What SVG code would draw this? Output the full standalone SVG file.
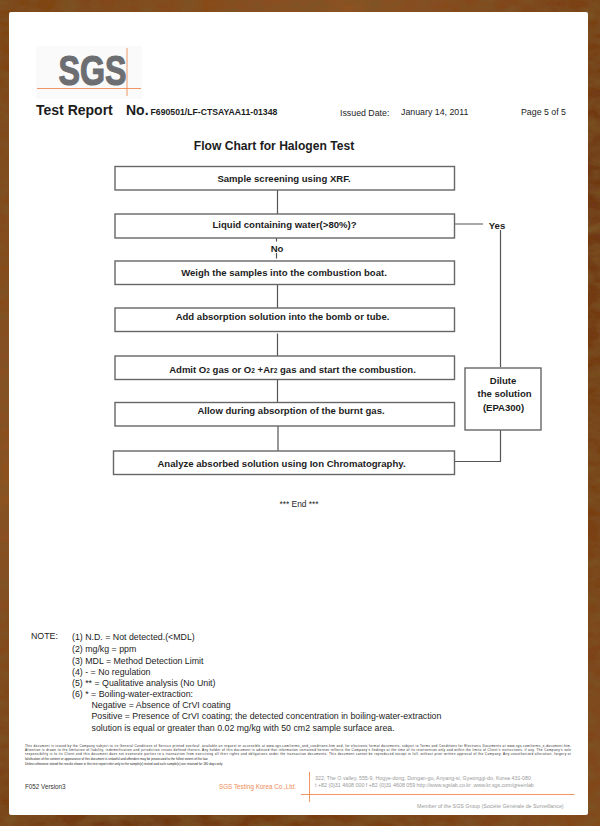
<svg xmlns="http://www.w3.org/2000/svg" width="600" height="826" viewBox="0 0 600 826">
<style>
text{font-family:"Liberation Sans",Arial,sans-serif;fill:#1c1c1c}
.b{fill:#fff;stroke:#666;stroke-width:1.4}
.l{fill:none;stroke:#555;stroke-width:1.2}
.t{font-size:9.55px;font-weight:bold;text-anchor:middle}
.n{font-size:8.8px}
.f{font-size:3.1px;fill:#222}
.o{stroke:#ee8a55;stroke-width:.9;fill:none}
.g{font-size:5.3px;fill:#999}
</style>
<defs>
<linearGradient id="w" x1="0" y1="0" x2="1" y2="1">
<stop offset="0" stop-color="#7d4317"/><stop offset=".3" stop-color="#8f5224"/><stop offset=".6" stop-color="#6e3712"/><stop offset="1" stop-color="#84481d"/>
</linearGradient>
<filter id="grain" x="0" y="0" width="100%" height="100%">
<feTurbulence type="fractalNoise" baseFrequency="0.05 0.09" numOctaves="3" seed="4"/>
<feColorMatrix values="0 0 0 0 0.2  0 0 0 0 0.09  0 0 0 0 0.02  1.6 0 0 0 -0.45"/>
<feComposite in2="SourceGraphic" operator="in"/>
<feMerge><feMergeNode in="SourceGraphic"/><feMergeNode/></feMerge>
</filter>
</defs>
<rect width="600" height="826" fill="url(#w)" filter="url(#grain)"/>
<rect x="9" y="12" width="579" height="803" rx="2" fill="#fff"/>
<g id="logo">
<rect x="36" y="46" width="106" height="53" fill="#fafafa"/>
<text x="92.500" y="85" font-size="42" font-weight="bold" text-anchor="middle" textLength="68" lengthAdjust="spacingAndGlyphs" stroke="#6c6e72" stroke-width="1.200" style="fill:#6c6e72">SGS</text>
<path class="o" d="M37 88.500H141M127 48V96"/>
</g>
<g id="header">
<text x="36" y="115" font-size="14" font-weight="bold">Test Report</text>
<text x="126" y="115" font-size="14" font-weight="bold">No.</text>
<text x="150.500" y="115" font-size="8.700" font-weight="bold">F690501/LF-CTSAYAA11-01348</text>
<text x="340" y="115.500" font-size="8.800">Issued Date:</text>
<text x="401" y="114.500" font-size="8.800">January 14, 2011</text>
<text x="521" y="115" font-size="8.800">Page 5 of 5</text>
<text x="274" y="150" font-size="12.100" font-weight="bold" text-anchor="middle">Flow Chart for Halogen Test</text>
</g>
<g id="connectors">
<path class="l" d="M277.500 190V214M276.500 238V241.500M276.500 253V258.500M277.500 284V308M277.500 333.500V356M277.500 379V403M278 426V451M453 224H483M500.500 230V367M500.500 430V461.500H454"/>
</g>
<g id="n1"><rect class="b" x="115" y="166.500" width="339.500" height="23.500"/><text class="t" x="284" y="181.500">Sample screening using XRF.</text></g>
<g id="n2"><rect class="b" x="115" y="214" width="339.500" height="24"/><text class="t" x="284.500" y="228">Liquid containing water(&gt;80%)?</text></g>
<g id="no"><text class="t" x="277" y="251.500">No</text></g>
<g id="yes"><text class="t" x="497" y="228.500">Yes</text></g>
<g id="n3"><rect class="b" x="115" y="261" width="339.500" height="23.500"/><text class="t" x="284" y="275.500">Weigh the samples into the combustion boat.</text></g>
<g id="n4"><rect class="b" x="115" y="308" width="339.500" height="23.500"/><text class="t" x="282.500" y="319.500">Add absorption solution into the bomb or tube.</text></g>
<g id="n5"><rect class="b" x="115" y="356" width="339.500" height="23.500"/><text class="t" x="292.500" y="372.500">Admit O<tspan font-size="6.500">2</tspan> gas or O<tspan font-size="6.500">2</tspan> +Ar<tspan font-size="6.500">2</tspan> gas and start the combustion.</text></g>
<g id="n6"><rect class="b" x="115" y="402.500" width="339.500" height="23.500"/><text class="t" x="291" y="414">Allow during absorption of the burnt gas.</text></g>
<g id="n7"><rect class="b" x="113.500" y="451" width="341" height="23.500"/><text class="t" x="281.500" y="466.500">Analyze absorbed solution using Ion Chromatography.</text></g>
<g id="n8"><rect class="b" x="465" y="368" width="76" height="62"/><text class="t" x="503" y="384">Dilute</text><text class="t" x="504.500" y="397">the solution</text><text class="t" x="503.500" y="411">(EPA300)</text></g>
<text x="299" y="507" font-size="8.400" text-anchor="middle">*** End ***</text>
<g id="notes">
<text class="n" x="31" y="639">NOTE:</text>
<text class="n" x="72" y="640">(1) N.D. = Not detected.(&lt;MDL)</text>
<text class="n" x="72" y="652">(2) mg/kg = ppm</text>
<text class="n" x="72" y="663.500">(3) MDL = Method Detection Limit</text>
<text class="n" x="72" y="674.500">(4) - = No regulation</text>
<text class="n" x="72" y="686">(5) ** = Qualitative analysis (No Unit)</text>
<text class="n" x="72" y="697">(6) * = Boiling-water-extraction:</text>
<text class="n" x="91.500" y="708">Negative = Absence of CrVI coating</text>
<text class="n" x="91.500" y="719">Positive = Presence of CrVI coating; the detected concentration in boiling-water-extraction</text>
<text class="n" x="91.500" y="731">solution is equal or greater than 0.02 mg/kg with 50 cm2 sample surface area.</text>
</g>
<g id="fine">
<text class="f" x="25" y="746.500" textLength="546" lengthAdjust="spacing">This document is issued by the Company subject to its General Conditions of Service printed overleaf, available on request or accessible at www.sgs.com/terms_and_conditions.htm and, for electronic format documents, subject to Terms and Conditions for Electronic Documents at www.sgs.com/terms_e-document.htm.</text>
<text class="f" x="25" y="750.500" textLength="546" lengthAdjust="spacing">Attention is drawn to the limitation of liability, indemnification and jurisdiction issues defined therein. Any holder of this document is advised that information contained hereon reflects the Company's findings at the time of its intervention only and within the limits of Client's instructions, if any. The Company's sole</text>
<text class="f" x="25" y="755" textLength="546" lengthAdjust="spacing">responsibility is to its Client and this document does not exonerate parties to a transaction from exercising all their rights and obligations under the transaction documents. This document cannot be reproduced except in full, without prior written approval of the Company. Any unauthorized alteration, forgery or</text>
<text class="f" x="25" y="760">falsification of the content or appearance of this document is unlawful and offenders may be prosecuted to the fullest extent of the law.</text>
<text class="f" x="25" y="765">Unless otherwise stated the results shown in this test report refer only to the sample(s) tested and such sample(s) are retained for 180 days only.</text>
</g>
<g id="footer">
<text x="25" y="789" font-size="6.300" style="fill:#333">F052 Version3</text>
<text x="219" y="789" font-size="6.300" style="fill:#ee8a55">SGS Testing Korea Co.,Ltd.</text>
<path class="o" d="M301 794.500H574.500M309.500 772V802"/>
<text class="g" x="315" y="780">322, The O valley, 555-9, Hogye-dong, Dongan-gu, Anyang-si, Gyeonggi-do, Korea 431-080</text>
<text class="g" x="315" y="787">t +82 (0)31 4608 000  f +82 (0)31 4608 059 http://www.sgslab.co.kr ,www.kr.sgs.com/greenlab</text>
<text class="g" x="417" y="807.500">Member of the SGS Group (Société Générale de Surveillance)</text>
</g>
</svg>
